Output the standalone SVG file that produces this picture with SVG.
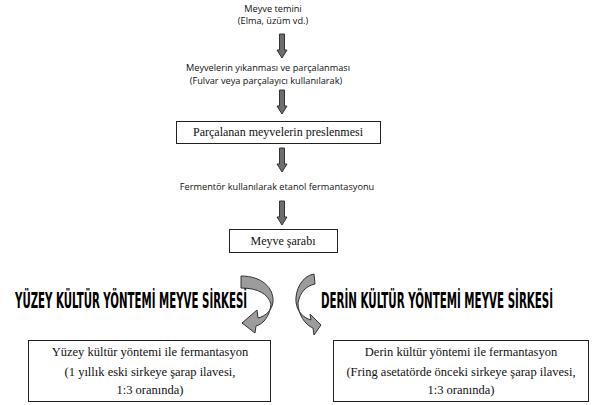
<svg xmlns="http://www.w3.org/2000/svg" width="608" height="405" viewBox="0 0 608 405">
<style>
.sans{font-family:"Open Sans","DejaVu Sans",sans-serif;font-size:9.2px;fill:#111;text-anchor:middle}
.serif{font-family:"Liberation Serif","Times New Roman",serif;font-size:12px;fill:#111;text-anchor:middle}
.serif2{font-family:"Liberation Serif","Times New Roman",serif;font-size:12.5px;fill:#111;text-anchor:middle}
.head{font-family:"DejaVu Sans Condensed","DejaVu Sans",sans-serif;font-weight:bold;font-size:20.5px;fill:#000}
.box{fill:#fff;stroke:#222;stroke-width:1}
.blk{fill:#6e6e6e;stroke:#333;stroke-width:1}
.curve{fill:#9c9c9c;stroke:#333;stroke-width:1}
</style>
<defs>
<path id="down" d="M-2.5,0 H2.5 V16 H5 L0,24 L-5,16 H-2.5 Z"/>
</defs>
<rect width="608" height="405" fill="#fff"/>
<g id="connectors">
<use href="#down" class="blk" x="282" y="34"/>
<use href="#down" class="blk" x="282" y="90"/>
<use href="#down" class="blk" x="282" y="148"/>
<use href="#down" class="blk" x="282" y="201"/>
<path class="curve" d="M241,276 C262,276 274,288 273,302 C272,310 266,316 258,318 L257,310 L242,323 L255,333 L256,326 C264,324 270,315 271,304 C268,294 258,288 241,288 Z"/>
<path class="curve" d="M314,274 C302,276 295,290 296,302 C297,312 304,318 311,320 L310,314 L321,325 L314,335 L313,328 C305,325 298,314 298,303 C300,292 306,286 315,284 Z"/>
</g>
<g id="n1">
<text class="sans" x="273" y="12">Meyve temini</text>
<text class="sans" x="273" y="24">(Elma, üzüm vd.)</text>
</g>
<g id="n2">
<text class="sans" x="268" y="71">Meyvelerin yıkanması ve parçalanması</text>
<text class="sans" x="266" y="84">(Fulvar veya parçalayıcı kullanılarak)</text>
</g>
<g id="n3">
<rect class="box" x="176.5" y="121.5" width="204" height="22"/>
<text class="serif" x="278" y="136">Parçalanan meyvelerin preslenmesi</text>
</g>
<g id="n4">
<text class="sans" x="277" y="190">Fermentör kullanılarak etanol fermantasyonu</text>
</g>
<g id="n5">
<rect class="box" x="229.5" y="229.5" width="108" height="23"/>
<text class="serif" x="283" y="245">Meyve şarabı</text>
</g>
<g id="h1">
<text class="head" transform="translate(15,308) scale(0.55,1)" x="0" y="0" textLength="422" lengthAdjust="spacingAndGlyphs">YÜZEY KÜLTÜR YÖNTEMİ MEYVE SİRKESİ</text>
</g>
<g id="h2">
<text class="head" transform="translate(321,308) scale(0.55,1)" x="0" y="0" textLength="422" lengthAdjust="spacingAndGlyphs">DERİN KÜLTÜR YÖNTEMİ MEYVE SİRKESİ</text>
</g>
<g id="n6">
<rect class="box" x="28.5" y="340.5" width="242" height="61"/>
<text class="serif2" x="150" y="356">Yüzey kültür yöntemi ile fermantasyon</text>
<text class="serif2" x="150" y="376">(1 yıllık eski sirkeye şarap ilavesi,</text>
<text class="serif2" x="150" y="394">1:3 oranında)</text>
</g>
<g id="n7">
<rect class="box" x="333.5" y="340.5" width="255" height="61"/>
<text class="serif2" x="461" y="356">Derin kültür yöntemi ile fermantasyon</text>
<text class="serif2" x="461" y="376">(Fring asetatörde önceki sirkeye şarap ilavesi,</text>
<text class="serif2" x="461" y="394">1:3 oranında)</text>
</g>
</svg>
